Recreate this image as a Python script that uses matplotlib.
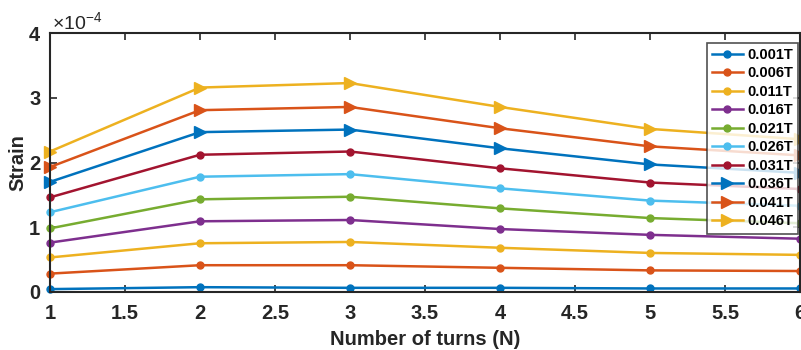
import matplotlib
matplotlib.use("Agg")
import matplotlib.pyplot as plt
import numpy as np

plt.rcParams['font.family'] = ['Liberation Sans', 'DejaVu Sans']
plt.rcParams['mathtext.fontset'] = 'custom'
plt.rcParams['mathtext.rm'] = 'Liberation Sans'
plt.rcParams['mathtext.it'] = 'Liberation Sans:italic'
plt.rcParams['mathtext.bf'] = 'Liberation Sans:bold'

turns = [1, 2, 3, 4, 5, 6]
labels = ['0.001T', '0.006T', '0.011T', '0.016T', '0.021T',
          '0.026T', '0.031T', '0.036T', '0.041T', '0.046T']
# strain values in units of 1e-4
s0001 = [0.04, 0.07, 0.06, 0.06, 0.05, 0.05]
s0006 = [0.28, 0.41, 0.41, 0.37, 0.33, 0.32]
s0011 = [0.53, 0.75, 0.77, 0.68, 0.60, 0.57]
s0016 = [0.76, 1.09, 1.11, 0.97, 0.88, 0.82]
s0021 = [0.98, 1.43, 1.47, 1.29, 1.14, 1.06]
s0026 = [1.23, 1.78, 1.82, 1.60, 1.41, 1.33]
s0031 = [1.46, 2.12, 2.17, 1.91, 1.69, 1.59]
s0036 = [1.70, 2.47, 2.51, 2.22, 1.97, 1.84]
s0041 = [1.93, 2.81, 2.86, 2.53, 2.25, 2.11]
s0046 = [2.17, 3.16, 3.23, 2.86, 2.52, 2.36]
series = [s0001, s0006, s0011, s0016, s0021, s0026, s0031, s0036, s0041, s0046]

colors = ['#0072BD', '#D95319', '#EDB120', '#7E2F8E', '#77AC30',
          '#4DBEEE', '#A2142F', '#0072BD', '#D95319', '#EDB120']
markers = ['o'] * 7 + ['>'] * 3
msizes = [5] * 7 + [8] * 3

fig = plt.figure(figsize=(8.01, 3.5), dpi=100)
ax = fig.add_axes([50/801, 1-291.7/350, 750/801, (291.7-33.3)/350])

for y, c, m, ms, lab in zip(series, colors, markers, msizes, labels):
    ax.plot(turns, y, color=c, marker=m, markersize=ms, linewidth=1.8,
            label=lab, clip_on=False)

ax.set_xlim(1, 6)
ax.set_ylim(0, 4)
ax.set_xticks(np.arange(1, 6.01, 0.5))
ax.set_xticklabels(['1', '1.5', '2', '2.5', '3', '3.5', '4', '4.5', '5', '5.5', '6'])
ax.set_yticks([0, 1, 2, 3, 4])
ax.tick_params(direction='in', length=5, width=1.2, top=True, right=True,
               labelsize=14.5, colors='#262626')
ax.tick_params(axis='x', pad=9)
ax.tick_params(axis='y', pad=7)
for lbl in ax.get_xticklabels() + ax.get_yticklabels():
    lbl.set_fontweight('bold')
for sp in ax.spines.values():
    sp.set_linewidth(1.5)
    sp.set_color('#262626')

ax.set_xlabel('Number of turns (N)', fontsize=14.5, fontweight='bold', color='#262626', labelpad=5)
ax.set_ylabel('Strain', fontsize=14.5, fontweight='bold', color='#262626', labelpad=1)
fig.text(52/801, 1-22/350, r'$\times\mathregular{10^{-4}}$', fontsize=14, color='#262626',
         va='center', ha='left')

leg = ax.legend(loc='upper left', bbox_to_anchor=(707/801, 1-42.7/350),
                bbox_transform=fig.transFigure, frameon=True, fancybox=False,
                prop={'weight': 'bold', 'size': 10.5}, handlelength=2.1,
                labelspacing=0.31, borderpad=0.35, handletextpad=0.3,
                borderaxespad=0)
leg.get_frame().set_edgecolor('#262626')
leg.get_frame().set_linewidth(1.2)

fig.savefig('out.png', dpi=100)
